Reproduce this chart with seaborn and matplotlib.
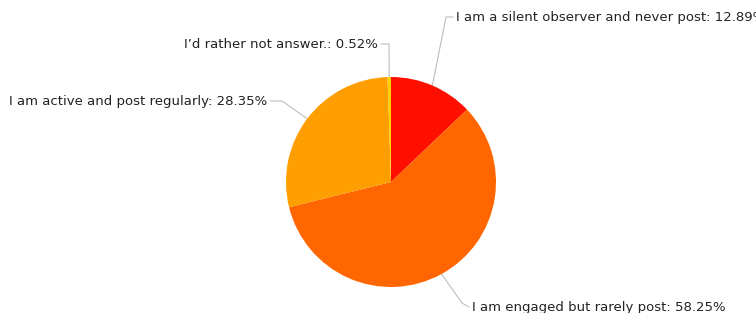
import numpy as np
import matplotlib
matplotlib.use("Agg")
import matplotlib.pyplot as plt
import seaborn as sns

# Survey answers (clockwise from 12 o'clock)
answers = ["I am a silent observer and never post",
           "I am engaged but rarely post",
           "I am active and post regularly",
           "I\u2019d rather not answer."]
shares = [12.89, 58.25, 28.35, 0.52]
colors = ["#FF0F00", "#FF6600", "#FF9E01", "#FCD202"]

sns.set_theme(style="white")
plt.rcParams['font.family'] = ['DejaVu Sans']

W, H = 756, 313
fig = plt.figure(figsize=(W / 100, H / 100), dpi=100)
ax = fig.add_axes([0, 0, 1, 1])

cx, cy, r = 391, H - 182, 105
wedges, _ = ax.pie(shares, colors=colors, startangle=90, counterclock=False,
                   center=(cx, cy), radius=r, frame=True,
                   wedgeprops=dict(linewidth=0))
ax.set_xlim(0, W)
ax.set_ylim(0, H)
ax.set_aspect("equal")
ax.axis("off")

# label layout: (elbow point, tick end, ha) in pixel coords (y from top)
layout = [
    ((446, 17), (453, 17), "left"),
    ((462, 303), (469, 307), "left"),
    ((282, 101), (270, 101), "right"),
    ((389, 44), (381, 44), "right"),
]

for w, name, val, (elbow, tick, ha) in zip(wedges, answers, shares, layout):
    mid = np.deg2rad((w.theta1 + w.theta2) / 2)
    ex, ey = cx + r * np.cos(mid), cy + r * np.sin(mid)
    xs = [ex, elbow[0], tick[0]]
    ys = [ey, H - elbow[1], H - tick[1]]
    ax.plot(xs, ys, color="#bdbdbd", lw=0.8, zorder=0)
    tx = tick[0] + (3 if ha == "left" else -3)
    ax.text(tx, H - tick[1], f"{name}: {val:.2f}%", ha=ha, va="center",
            fontsize=9.5, color="#222222")

fig.savefig("out.png", dpi=100)
